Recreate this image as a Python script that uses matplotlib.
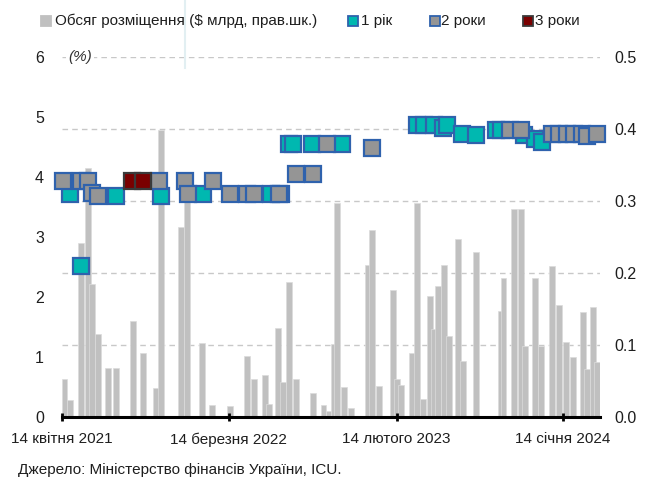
import matplotlib
matplotlib.use("Agg")
import matplotlib.pyplot as plt
from matplotlib.lines import Line2D
import pandas as pd

plt.rcParams['font.family'] = ['Liberation Sans', 'DejaVu Sans']

# volume of placements ($ bn, right axis)
bar_dates = ["2021-04-19", "2021-04-30", "2021-05-22", "2021-06-05", "2021-06-13", "2021-06-25",
             "2021-07-15", "2021-07-31", "2021-09-03", "2021-09-23", "2021-10-20", "2021-10-30",
             "2021-12-09", "2021-12-21", "2022-01-20", "2022-02-09", "2022-03-17", "2022-04-20",
             "2022-05-04", "2022-05-26", "2022-06-03", "2022-06-21", "2022-07-01", "2022-07-13",
             "2022-07-27", "2022-08-30", "2022-09-20", "2022-09-30", "2022-10-10", "2022-10-18",
             "2022-11-01", "2022-11-15", "2022-12-19", "2022-12-27", "2023-01-10", "2023-02-07",
             "2023-02-15", "2023-02-23", "2023-03-17", "2023-03-27", "2023-04-08", "2023-04-22",
             "2023-04-30", "2023-05-08", "2023-05-20", "2023-05-30", "2023-06-17", "2023-06-27",
             "2023-07-23", "2023-09-10", "2023-09-16", "2023-10-08", "2023-10-22", "2023-10-30",
             "2023-11-19", "2023-12-01", "2023-12-23", "2024-01-06", "2024-01-20", "2024-02-03",
             "2024-02-23", "2024-03-02", "2024-03-14", "2024-03-22"]
bar_vals = [0.053, 0.024, 0.241, 0.346, 0.185, 0.115,
            0.068, 0.068, 0.133, 0.089, 0.040, 0.398,
            0.264, 0.298, 0.103, 0.016, 0.015, 0.085,
            0.053, 0.058, 0.018, 0.124, 0.049, 0.187,
            0.053, 0.033, 0.016, 0.008, 0.101, 0.297,
            0.042, 0.012, 0.211, 0.260, 0.043, 0.177,
            0.053, 0.044, 0.089, 0.297, 0.025, 0.168,
            0.122, 0.182, 0.211, 0.113, 0.247, 0.078,
            0.229, 0.147, 0.193, 0.289, 0.289, 0.098,
            0.193, 0.098, 0.210, 0.156, 0.104, 0.083,
            0.146, 0.067, 0.153, 0.077]

# 1 year yields (%)
y1_dates = ["2021-05-01", "2021-05-22", "2021-07-31", "2021-10-29", "2022-01-22", "2022-06-07",
            "2022-06-28", "2022-07-14", "2022-07-21", "2022-08-29", "2022-10-28", "2023-03-27",
            "2023-04-10", "2023-04-30", "2023-05-19", "2023-05-26", "2023-06-25", "2023-07-23",
            "2023-09-02", "2023-09-12", "2023-10-28", "2023-11-19", "2023-12-02"]
y1_vals = [3.71, 2.52, 3.69, 3.69, 3.72, 3.72,
           3.72, 4.55, 4.55, 4.55, 4.55, 4.86,
           4.86, 4.86, 4.81, 4.87, 4.72, 4.70,
           4.78, 4.78, 4.70, 4.63, 4.58]

# 2 year yields (%)
y2_dates = ["2021-04-16", "2021-05-22", "2021-06-06", "2021-06-13", "2021-06-26", "2021-10-25",
            "2021-12-17", "2021-12-23", "2022-02-10", "2022-03-17", "2022-04-21", "2022-05-04",
            "2022-06-23", "2022-07-27", "2022-08-30", "2022-09-28", "2022-12-27", "2023-09-30",
            "2023-10-22", "2023-12-22", "2024-01-06", "2024-01-21", "2024-02-04", "2024-02-20",
            "2024-03-01", "2024-03-22"]
y2_vals = [3.94, 3.94, 3.94, 3.74, 3.69, 3.94,
           3.94, 3.72, 3.94, 3.72, 3.72, 3.72,
           3.72, 4.05, 4.05, 4.55, 4.49, 4.78,
           4.78, 4.72, 4.72, 4.72, 4.72, 4.72,
           4.68, 4.72]

# 3 year yields (%)
y3_dates = ["2021-09-01", "2021-09-24"]
y3_vals = [3.94, 3.94]

tick_dates = ["2021-04-14", "2022-03-14", "2023-02-14", "2024-01-14"]
tick_labels = ["14 квітня 2021", "14 березня 2022", "14 лютого 2023", "14 січня 2024"]

legend_labels = ["Обсяг розміщення ($ млрд, прав.шк.)", "1 рік", "2 роки", "3 роки"]

bar_c = "#c0c0c0"
teal = "#00b8b0"
grey = "#959595"
red = "#7a0000"
edge = "#2f62ad"
txt = "#1e1e1e"
fs = 11

fig = plt.figure(figsize=(6.48, 4.84), dpi=100)
ax = fig.add_axes([62/648, 1-417/484, 538/648, 360/484])
axr = ax.twinx()
ax.set_zorder(3)
ax.patch.set_visible(False)

# bars on right axis
axr.bar(pd.to_datetime(bar_dates), bar_vals, width=11, color=bar_c,
        edgecolor="#dcdcdc", linewidth=0.5, zorder=2)
axr.set_ylim(0, 0.5)
axr.set_yticks([0, 0.1, 0.2, 0.3, 0.4, 0.5])
axr.set_yticklabels(["0.0", "0.1", "0.2", "0.3", "0.4", "0.5"])
for v in [0.1, 0.2, 0.3, 0.4, 0.5]:
    axr.axhline(v, color="#c8c8c8", lw=1, ls=(0, (4, 3)), zorder=0)

# markers on left axis
mk = dict(ls="none", marker="s", markersize=11.2, markeredgewidth=1.6, clip_on=False)
ax.plot(pd.to_datetime(y1_dates), y1_vals, markerfacecolor=teal, markeredgecolor=edge, **mk)
ax.plot(pd.to_datetime(y2_dates), y2_vals, markerfacecolor=grey, markeredgecolor=edge, **mk)
ax.plot(pd.to_datetime(y3_dates), y3_vals, markerfacecolor=red, markeredgecolor="#3a3a3a", **mk)
ax.set_ylim(0, 6)
ax.set_yticks(range(0, 7))

ax.set_xlim(pd.Timestamp("2021-04-14"), pd.Timestamp("2024-03-28"))
ax.set_xticks(pd.to_datetime(tick_dates))
ax.set_xticklabels(tick_labels)

for a in (ax, axr):
    for s in a.spines.values():
        s.set_visible(False)
ax.spines["bottom"].set_visible(True)
ax.spines["bottom"].set_linewidth(2.2)
ax.spines["bottom"].set_color("black")
ax.tick_params(axis="x", direction="inout", length=6, width=2, pad=8, labelsize=fs, colors="black",
               labelcolor=txt)
ax.tick_params(axis="y", length=0, pad=13, labelsize=11.5, colors=txt)
axr.tick_params(axis="y", length=0, pad=10, labelsize=11.5, colors=txt)

fig.text(68/648, 1-57/484, "(%)", fontsize=fs, style="italic",
         color="#333333", va="center", ha="left",
         bbox=dict(facecolor="white", edgecolor="none", pad=1.5))

# legend, laid out by hand
leg_y = 1 - 21/484
leg_sq = [46, 353, 435, 528]
leg_tx = [55, 361, 441, 535]
leg_face = [bar_c, teal, grey, red]
leg_edge = [bar_c, edge, edge, "#3a3a3a"]
for xc, xt, fc, ec, lab in zip(leg_sq, leg_tx, leg_face, leg_edge, legend_labels):
    fig.add_artist(Line2D([xc/648], [leg_y], ls="none", marker="s", markersize=7.4,
                          markerfacecolor=fc, markeredgecolor=ec, markeredgewidth=1.3,
                          transform=fig.transFigure))
    fig.text(xt/648, leg_y, lab, fontsize=fs, color=txt, va="center", ha="left")

fig.text(18/648, 1-470/484, "Джерело: Міністерство фінансів України, ICU.", fontsize=fs,
         color=txt, va="center", ha="left")

# thin vertical artefact near the top
fig.add_artist(Line2D([185/648, 185/648], [1, 1-68/484], color="#e2eff2", lw=1.5))

fig.savefig("out.png", dpi=100)
